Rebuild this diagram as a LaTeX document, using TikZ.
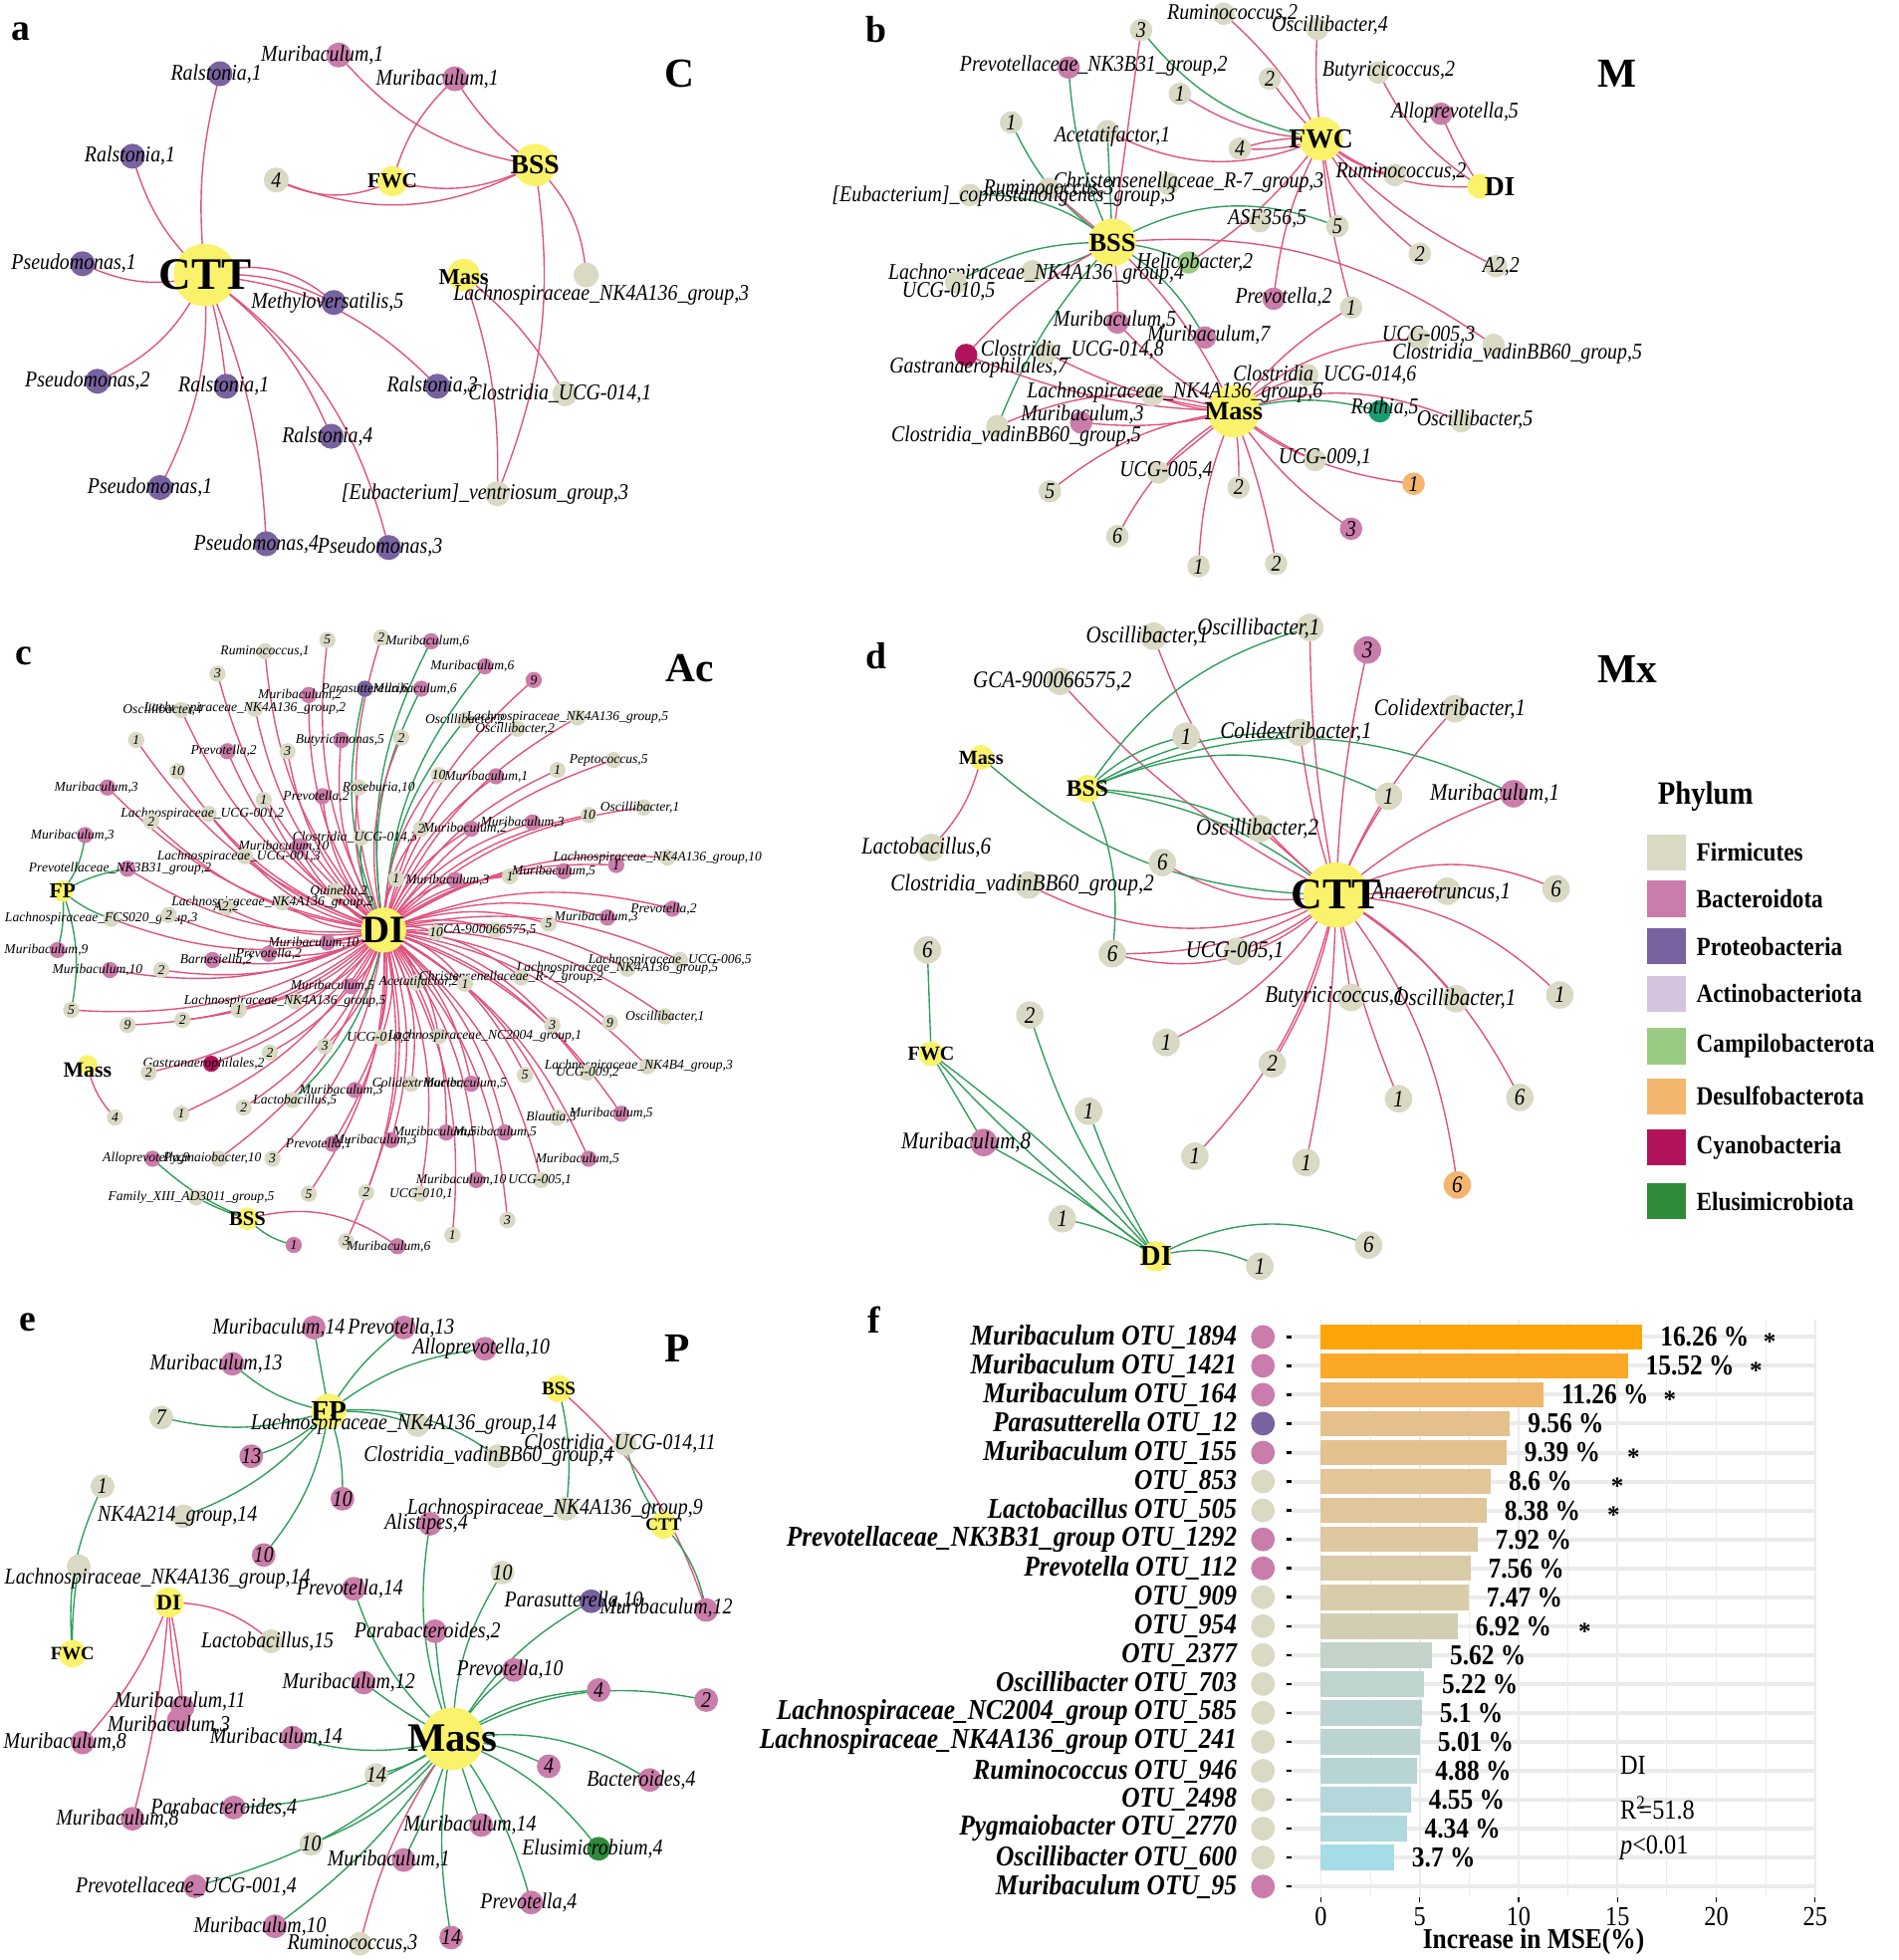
\documentclass[tikz,border=0pt]{standalone}
\usepackage{fontspec}
\setmainfont{Liberation Serif}
\newfontfamily\cond[FakeStretch=0.88]{Liberation Serif}
\usetikzlibrary{backgrounds}
\definecolor{hubyel}{HTML}{FBF26C}
\definecolor{fir}{HTML}{D9D9C4}
\definecolor{bac}{HTML}{CA7CAA}
\definecolor{pro}{HTML}{7862A0}
\definecolor{act}{HTML}{D4C4DE}
\definecolor{cam}{HTML}{9ACB83}
\definecolor{des}{HTML}{F4B66E}
\definecolor{cya}{HTML}{B2135A}
\definecolor{elu}{HTML}{2E8B3A}
\definecolor{teal}{HTML}{189E72}
\definecolor{edgered}{HTML}{E0527D}
\definecolor{edgegreen}{HTML}{2E9E5B}
\definecolor{gridc}{HTML}{EBEBEB}
\definecolor{fb1}{HTML}{FFA50A}
\definecolor{fb2}{HTML}{FBA827}
\definecolor{fb3}{HTML}{EEB76B}
\definecolor{fb4}{HTML}{E6C08C}
\definecolor{fb5}{HTML}{E5C18F}
\definecolor{fb6}{HTML}{E2C598}
\definecolor{fb7}{HTML}{E0C69B}
\definecolor{fb8}{HTML}{DDC8A2}
\definecolor{fb9}{HTML}{D9CBA8}
\definecolor{fb10}{HTML}{D8CCAA}
\definecolor{fb11}{HTML}{D3CEB1}
\definecolor{fb12}{HTML}{C3D3CA}
\definecolor{fb13}{HTML}{BED4CF}
\definecolor{fb14}{HTML}{BCD4D1}
\definecolor{fb15}{HTML}{BBD4D2}
\definecolor{fb16}{HTML}{B8D5D5}
\definecolor{fb17}{HTML}{B3D7DB}
\definecolor{fb18}{HTML}{B0D8DF}
\definecolor{fb19}{HTML}{A7DBE8}
\tikzset{%
        hub/.style = { circle, fill=hubyel, inner sep=0pt, minimum size=#1 },
         lf/.style = { circle, fill=#1, inner sep=0pt },
        lbl/.style = { inner sep=0pt, font=\cond\itshape\fontsize{#1}{#1}\selectfont },
       lbln/.style = { inner sep=0pt, font=\itshape\fontsize{#1}{#1}\selectfont },
     hubtxt/.style = { inner sep=0pt, font=\bfseries\fontsize{#1}{#1}\selectfont },
         er/.style = { draw=edgered, line width=0.55pt },
         eg/.style = { draw=edgegreen, line width=0.55pt },
         en/.style = { draw=none },
      panel/.style = { inner sep=0pt, font=\bfseries\fontsize{15}{15}\selectfont },
      group/.style = { inner sep=0pt, font=\bfseries\fontsize{16.5}{16.5}\selectfont },
      fbold/.style = { inner sep=0pt, font=\cond\bfseries\fontsize{11.5}{11.5}\selectfont },
    gridmaj/.style = { draw=gridc, line width=0.7pt },
    gridmin/.style = { draw=gridc, line width=0.35pt },
    gridrow/.style = { draw=gridc, line width=1.6pt }
}
\begin{document}
\begin{tikzpicture}[x=0.5pt,y=-0.5pt]
\useasboundingbox (0,0) rectangle (1519,1568);
% panel letters
\node[panel] (la) at (17,25) {a};
\node[panel] (lb) at (701,24) {b};
\node[panel] (lc) at (19,525) {c};
\node[panel] (ld) at (701,525) {d};
\node[panel] (le) at (22,1058) {e};
\node[panel] (lf) at (699,1056) {f};
\node[group] (gC) at (544,59) {C};
\node[group] (gM) at (1294,59) {M};
\node[group] (gAc) at (552,535) {Ac};
\node[group] (gMx) at (1302,535) {Mx};
\node[group] (gP) at (542,1079) {P};

%% panel a
\node[hub=25pt,label={[hubtxt=18]center:CTT}] (aCTT) at (164,220) {};
\node[hub=17pt,label={[hubtxt=11]center:BSS}] (aBSS) at (428,132) {};
\node[hub=12pt,label={[hubtxt=8.5]center:FWC}] (aFWC) at (314,145) {};
\node[hub=13pt,label={[hubtxt=9,yshift=-1pt]center:Mass}] (aMass) at (371,220) {};
\foreach \n/\x/\y/\c/\t/\dx/\dy in {
  1/176/59/pro/{Ralstonia,1}/-3/0, 2/106/125/pro/{Ralstonia,1}/-2/0,
  3/66/211/pro/{Pseudomonas,1}/-7/0, 4/267/242/pro/{Methyloversatilis,5}/-5/0,
  5/78/305/pro/{Pseudomonas,2}/-8/0, 6/181/309/pro/{Ralstonia,1}/-2/0,
  7/350/309/pro/{Ralstonia,3}/-4/0, 8/265/349/pro/{Ralstonia,4}/-3/0,
  9/128/390/pro/{Pseudomonas,1}/-8/0, 10/213/435/pro/{Pseudomonas,4}/-8/0,
  11/311/438/pro/{Pseudomonas,3}/-7/0, 12/271/44/bac/{Muribaculum,1}/-13/0,
  13/364/63/bac/{Muribaculum,1}/-14/0, 14/221/144/fir/4/0/0,
  15/452/315/fir/{Clostridia\_UCG-014,1}/-4/0,
  16/469/220/fir/{Lachnospiraceae\_NK4A136\_group,3}/12/16,
  17/398/395/fir/{[Eubacterium]\_ventriosum\_group,3}/-10/0}
  \node[lf=\c,minimum size=10pt,label={[lbl=9,xshift=\dx*0.5pt,yshift=\dy*-0.5pt]center:{\t}}] (a\n) at (\x,\y) {};
\begin{scope}[on background layer]
\foreach \a/\b/\e/\k in {aCTT/a1/er/10, aCTT/a2/er/15, aCTT/a3/er/20, aCTT/a4/er/15,
  aCTT/a4/er/30, aCTT/a5/er/20, aCTT/a6/er/5, aCTT/a7/er/20, aCTT/a8/er/15,
  aCTT/a9/er/15, aCTT/a10/er/10, aCTT/a11/er/20, aBSS/a12/er/20, aBSS/a13/er/10,
  aFWC/a13/er/15, aFWC/a14/er/25, aBSS/aFWC/er/20, aBSS/a14/er/25, aBSS/a16/er/20,
  aBSS/a17/er/15, aMass/a15/er/10, aMass/a17/er/10}
  \draw[\e] (\a.center) to[bend left={(\k)}] (\b.center);
\end{scope}

%% panel b
\node[hub=17.5pt,label={[hubtxt=11]center:FWC}] (bFWC) at (1057,111) {};
\node[hub=10pt,label={[hubtxt=11,xshift=8pt]center:DI}] (bDI) at (1184,149) {};
\node[hub=19pt,label={[hubtxt=10.5]center:BSS}] (bBSS) at (890,194) {};
\node[hub=21pt,label={[hubtxt=10.5]center:Mass}] (bMass) at (987,329) {};
\foreach \n/\x/\y/\c/\t/\dx/\dy in {
  1/913/24/fir/3/0/0, 2/979/11/fir/{Ruminococcus,2}/7/0, 3/1054/23/fir/{Oscillibacter,4}/10/-3,
  4/855/54/bac/{Prevotellaceae\_NK3B31\_group,2}/20/-1, 5/1016/63/fir/2/0/0,
  6/1103/58/fir/{Butyricicoccus,2}/8/-1, 7/944/75/fir/1/0/0,
  8/1153/91/bac/{Alloprevotella,5}/11/-1, 9/809/98/fir/1/0/0,
  10/886/105/fir/{Acetatifactor,1}/4/4, 11/992/119/fir/4/0/0,
  12/1116/140/fir/{Ruminococcus,2}/5/-2, 13/935/147/fir/{Christensenellaceae\_R-7\_group,3}/16/-1,
  14/839/151/fir/{Ruminococcus,3}/0/0, 15/776/156/fir/{[Eubacterium]\_coprostanoligenes\_group,3}/27/1,
  16/1070/181/fir/5/0/0, 17/1008/177/fir/{ASF356,5}/6/-2, 18/951/210/cam/{Helicobacter,2}/5/0,
  19/1136/203/fir/2/0/0, 20/1197/213/fir/{A2,2}/4/0,
  21/826/217/fir/{Lachnospiraceae\_NK4A136\_group,4}/3/2, 22/765/226/fir/{UCG-010,5}/-6/7,
  23/1019/239/bac/{Prevotella,2}/8/-1, 24/1081/246/fir/1/0/0,
  25/894/258/bac/{Muribaculum,5}/-2/-2, 26/964/270/bac/{Muribaculum,7}/3/-2,
  27/1135/271/fir/{UCG-005,3}/8/-3, 28/1195/276/fir/{Clostridia\_vadinBB60\_group,5}/19/7,
  29/773/284/cya/{Gastranaerophilales,7}/10/10, 30/837/282/fir/{Clostridia\_UCG-014,8}/21/-2,
  31/1046/300/fir/{Clostridia\_UCG-014,6}/14/0, 32/922/316/fir/{Lachnospiraceae\_NK4A136\_group,6}/18/-2,
  33/1104/329/teal/{Rothia,5}/4/-3, 34/1169/337/fir/{Oscillibacter,5}/11/-1,
  35/865/338/bac/{Muribaculum,3}/1/-6, 36/798/341/fir/{Clostridia\_vadinBB60\_group,5}/15/8,
  37/1052/368/fir/{UCG-009,1}/8/-2, 38/927/378/fir/{UCG-005,4}/6/-1,
  39/1131/387/des/1/0/0, 40/840/393/fir/5/0/0, 41/991/390/fir/2/0/0,
  42/1081/423/bac/3/0/0, 43/894/429/fir/6/0/0, 44/959/453/fir/1/0/0, 45/1021/451/fir/2/0/0}
  \node[lf=\c,minimum size=9pt,label={[lbl=9,xshift=\dx*0.5pt,yshift=\dy*-0.5pt]center:{\t}}] (b\n) at (\x,\y) {};
\begin{scope}[on background layer]
\foreach \a/\b/\e/\k in {bFWC/b1/eg/20, bFWC/b7/er/15, bFWC/b2/er/-10, bFWC/b3/er/5,
  bFWC/b5/er/5, bFWC/b11/er/10, bFWC/b11/er/-10, bFWC/b10/er/25, bFWC/bDI/er/-20,
  bFWC/b12/er/-15, bFWC/b19/er/-10, bFWC/b20/er/-10, bFWC/b16/er/0, bFWC/b23/er/-10,
  bFWC/b18/er/10, bFWC/b24/er/-5, bDI/b6/er/15, bDI/b8/er/5,
  bBSS/b4/eg/10, bBSS/b9/eg/15, bBSS/b10/eg/0, bBSS/b15/eg/-20, bBSS/b1/er/0,
  bBSS/b16/eg/25, bBSS/b22/eg/-15, bBSS/b21/eg/10, bBSS/b18/eg/10, bBSS/b26/eg/15,
  bBSS/b36/eg/-10, bBSS/b29/er/-10, bBSS/b28/er/20, bBSS/b14/er/0, bBSS/b25/er/5,
  bBSS/bMass/er/10, bMass/b29/er/10, bMass/b35/er/10, bMass/b36/er/-20,
  bMass/b32/er/10, bMass/b31/er/10, bMass/b27/er/20, bMass/b34/er/20, bMass/b33/eg/15,
  bMass/b24/er/10, bMass/b37/er/-10, bMass/b39/er/-15, bMass/b42/er/-10,
  bMass/b41/er/5, bMass/b44/er/-10, bMass/b45/er/5, bMass/b43/er/-15,
  bMass/b40/er/-15, bMass/b38/er/0, bMass/b25/er/10, bMass/b30/er/10}
  \draw[\e] (\a.center) to[bend left={(\k)}] (\b.center);
\end{scope}

%% panel c
\node[hub=18pt,label={[hubtxt=15.5]center:DI}] (cDI) at (307,744) {};
\node[hub=8.5pt,label={[hubtxt=8.5]center:FP}] (cFP) at (50,713) {};
\node[hub=8pt,label={[hubtxt=8.7,yshift=-2pt]center:Mass}] (cMass) at (70,852) {};
\node[hub=9pt,label={[hubtxt=8.2]center:BSS}] (cBSS) at (198,975) {};
\foreach \n/\x/\y/\c/\t/\dx/\e in {
  1/212/521/fir/{Ruminococcus,1}/0/er, 2/262/512/fir/5/0/er, 3/305/510/fir/2/0/er,
  4/345/513/bac/{Muribaculum,6}/-3/eg, 5/174/539/fir/3/0/er, 6/247/556/bac/{Muribaculum,2}/-7/er,
  7/292/551/pro/{Parasutterella,6}/0/eg, 8/337/551/bac/{Muribaculum,6}/-5/eg,
  9/388/533/bac/{Muribaculum,6}/-10/eg, 10/427/544/bac/9/0/er,
  11/204/567/fir/{Lachnospiraceae\_NK4A136\_group,2}/-8/er, 12/145/568/fir/{Oscillibacter,4}/-15/er,
  13/109/592/fir/1/0/er, 14/182/601/bac/{Prevotella,2}/-3/er, 15/230/601/fir/3/0/er,
  16/273/592/bac/{Butyricimonas,5}/-1/er, 17/321/590/fir/2/0/er,
  18/372/576/fir/{Oscillibacter,2}/0/eg, 19/414/583/fir/{Oscillibacter,2}/-2/er,
  20/462/574/fir/{Lachnospiraceae\_NK4A136\_group,5}/-8/er, 21/142/617/fir/10/0/er,
  22/86/630/bac/{Muribaculum,3}/-9/er, 23/211/640/fir/1/0/er, 24/258/637/bac/{Prevotella,2}/-5/er,
  25/287/630/fir/{Roseburia,10}/16/er, 26/351/620/fir/10/0/er, 27/397/621/bac/{Muribaculum,1}/-8/er,
  28/446/616/fir/1/0/er, 29/491/608/fir/{Peptococcus,5}/-4/er,
  30/167/651/fir/{Lachnospiraceae\_UCG-001,2}/-5/er, 31/121/657/fir/2/0/er,
  32/68/668/bac/{Muribaculum,3}/-10/en, 33/289/670/fir/{Clostridia\_UCG-014,3}/-5/eg,
  34/337/663/fir/2/0/er, 35/377/663/bac/{Muribaculum,2}/-5/er, 36/426/658/bac/{Muribaculum,3}/-8/er,
  37/471/652/fir/10/0/er, 38/515/646/fir/{Oscillibacter,1}/-3/er, 39/239/677/bac/{Muribaculum,10}/-12/er,
  40/196/685/fir/{Lachnospiraceae\_UCG-001,3}/-5/er, 41/102/695/bac/{Prevotellaceae\_NK3B31\_group,2}/-6/er,
  42/317/703/fir/1/0/er, 43/364/704/bac/{Muribaculum,3}/-6/er, 44/408/701/fir/1/0/er,
  45/451/697/bac/{Muribaculum,5}/-8/er, 46/493/692/bac/1/0/er,
  47/534/686/fir/{Lachnospiraceae\_NK4A136\_group,10}/-8/er, 48/268/713/fir/{Quinella,2}/3/er,
  49/226/722/fir/{Lachnospiraceae\_NK4A136\_group,2}/-8/er, 50/181/726/fir/{A2,2}/0/er,
  51/89/735/fir/{Lachnospiraceae\_FCS020\_group,3}/-8/er, 52/135/732/fir/2/0/er,
  53/538/727/bac/{Prevotella,2}/-7/er, 54/486/734/bac/{Muribaculum,3}/-9/er, 55/439/739/fir/5/0/er,
  56/396/744/fir/{GCA-900066575,5}/-8/er, 57/349/746/fir/10/0/er, 58/262/754/bac/{Muribaculum,10}/-11/er,
  59/215/763/bac/{Prevotella,2}/0/er, 60/46/760/bac/{Muribaculum,9}/-9/en,
  61/170/768/bac/{Barnesiella,2}/3/er, 62/544/768/fir/{Lachnospiraceae\_UCG-006,5}/-8/er,
  63/502/775/fir/{Lachnospiraceae\_NK4A136\_group,5}/-8/er, 64/88/776/bac/{Muribaculum,10}/-10/er,
  65/129/776/fir/2/0/er, 66/333/786/fir/{Acetatifactor,2}/2/er, 67/281/789/bac/{Muribaculum,5}/-15/er,
  68/417/782/fir/{Christensenellaceae\_R-7\_group,2}/-8/er, 69/372/787/fir/1/0/er,
  70/236/801/fir/{Lachnospiraceae\_NK4A136\_group,5}/-8/er, 71/191/808/fir/1/0/er,
  72/57/808/fir/5/0/er, 73/532/813/fir/{Oscillibacter,1}/0/er, 74/488/818/fir/9/0/er,
  75/102/820/fir/9/0/er, 76/146/816/fir/2/0/er, 77/442/820/fir/3/0/er,
  78/351/829/fir/{Lachnospiraceae\_NC2004\_group,1}/37/er, 79/260/837/fir/3/0/er,
  80/305/830/fir/{UCG-010,2}/-2/er, 81/216/842/fir/2/0/er, 82/169/851/cya/{Gastranaerophilales,2}/-6/er,
  83/119/858/fir/2/0/er, 84/518/853/fir/{Lachnospiraceae\_NK4B4\_group,3}/-7/er,
  85/470/858/fir/{UCG-009,2}/0/er, 86/420/860/fir/5/0/er, 87/145/891/fir/1/0/er,
  88/195/886/fir/2/0/er, 89/234/880/fir/{Lactobacillus,5}/2/eg, 90/284/872/bac/{Muribaculum,3}/-11/er,
  91/329/867/fir/{Colidextribacter,1}/8/er, 92/377/867/bac/{Muribaculum,5}/-5/er,
  93/446/894/fir/{Blautia,5}/-5/er, 94/497/891/bac/{Muribaculum,5}/-8/er,
  95/404/906/bac/{Muribaculum,5}/-8/er, 96/357/906/bac/{Muribaculum,5}/-9/er,
  97/175/927/fir/{Pygmaiobacter,10}/-5/er, 98/122/927/bac/{Alloprevotella,9}/-5/en,
  99/218/927/fir/3/0/er, 100/266/915/bac/{Prevotella,1}/-11/er, 101/313/912/bac/{Muribaculum,3}/-13/er,
  102/471/927/bac/{Muribaculum,5}/-9/er, 103/247/955/fir/5/0/er,
  104/157/958/fir/{Family\_XIII\_AD3011\_group,5}/-4/en, 105/293/954/fir/2/0/er,
  106/336/955/fir/{UCG-010,1}/1/er, 107/381/944/bac/{Muribaculum,10}/-12/er,
  108/433/944/fir/{UCG-005,1}/-1/er, 109/235/996/bac/1/0/en, 110/277/993/fir/3/0/er,
  111/318/997/bac/{Muribaculum,6}/-7/en, 112/406/976/fir/3/0/er, 113/362/988/fir/1/0/er,
  114/92/894/fir/4/0/en}
  {\node[lf=\c,minimum size=6.5pt,label={[lbln=5.4,xshift=\dx*0.5pt]center:{\t}}] (c\n) at (\x,\y) {};
   \begin{pgfonlayer}{background}\draw[\e] (cDI.center) to[bend left=18] (c\n.center);\end{pgfonlayer}}
\begin{scope}[on background layer]
\foreach \a/\b/\e/\k in {cFP/c32/eg/-15, cFP/c41/eg/10, cFP/c51/eg/-10, cFP/c60/eg/10,
  cFP/c72/eg/15, cBSS/c98/eg/10, cBSS/c104/eg/5, cBSS/c109/eg/-15, cBSS/c111/er/25,
  cMass/c114/er/-15}
  \draw[\e] (\a.center) to[bend left={(\k)}] (\b.center);
\end{scope}

%% panel d
\node[hub=26pt,label={[hubtxt=17.5]center:CTT}] (dCTT) at (1069,716) {};
\node[hub=11pt,label={[hubtxt=9.4]center:BSS}] (dBSS) at (870,631) {};
\node[hub=10pt,label={[hubtxt=8]center:Mass}] (dMass) at (785,606) {};
\node[hub=10pt,label={[hubtxt=8]center:FWC}] (dFWC) at (745,843) {};
\node[hub=12pt,label={[hubtxt=11.5]center:DI}] (dDI) at (925,1005) {};
\foreach \n/\x/\y/\c/\t/\dx/\dy in {
  1/923/509/fir/{Oscillibacter,1}/-5/0, 2/1048/502/fir/{Oscillibacter,1}/-41/1, 3/1094/520/bac/3/0/0,
  4/848/545/fir/{GCA-900066575,2}/-6/0, 5/1164/567/fir/{Colidextribacter,1}/-4/0,
  6/949/589/fir/1/0/0, 7/1040/586/fir/{Colidextribacter,1}/-3/0, 8/1111/637/fir/1/0/0,
  9/1211/635/bac/{Muribaculum,1}/-15/0, 10/745/678/fir/{Lactobacillus,6}/-4/0,
  11/1008/663/fir/{Oscillibacter,2}/-2/0, 12/930/690/fir/6/0/0,
  13/823/708/fir/{Clostridia\_vadinBB60\_group,2}/-5/0, 14/1158/713/fir/{Anaerotruncus,1}/-5/1,
  15/1245/711/fir/6/0/0, 16/742/760/fir/6/0/0, 17/890/763/fir/6/0/0,
  18/990/761/fir/{UCG-005,1}/-2/0, 19/1081/798/fir/{Butyricicoccus,1}/-13/0,
  20/1165/799/fir/{Oscillibacter,1}/-1/0, 21/1248/796/fir/1/0/0, 22/824/812/fir/2/0/0,
  23/933/834/fir/1/0/0, 24/1018/851/fir/2/0/0, 25/1119/879/fir/1/0/0, 26/1216/878/fir/6/0/0,
  27/871/889/fir/1/0/0, 28/787/914/bac/{Muribaculum,8}/-14/0, 29/956/925/fir/1/0/0,
  30/1045/930/fir/1/0/0, 31/1166/948/des/6/0/0, 32/850/975/fir/1/0/0,
  33/1095/996/fir/6/0/0, 34/1008/1013/fir/1/0/0}
  \node[lf=\c,minimum size=11pt,label={[lbl=9.5,xshift=\dx*0.5pt,yshift=\dy*-0.5pt]center:{\t}}] (d\n) at (\x,\y) {};
\begin{scope}[on background layer]
\foreach \a/\b/\e/\k in {dCTT/d1/er/15, dCTT/d2/er/5, dCTT/d3/er/5, dCTT/d4/er/10,
  dCTT/d5/er/10, dCTT/d7/er/5, dCTT/d8/er/5, dCTT/d9/er/10, dCTT/d12/er/20,
  dCTT/d13/er/25, dCTT/d14/er/0, dCTT/d15/er/25, dCTT/d17/er/15, dCTT/d17/er/30,
  dCTT/d18/er/10, dCTT/d21/er/20, dCTT/d20/er/10, dCTT/d19/er/0, dCTT/d23/er/15,
  dCTT/d24/er/10, dCTT/d25/er/-5, dCTT/d26/er/15, dCTT/d29/er/15, dCTT/d30/er/5,
  dCTT/d31/er/15, dCTT/d11/er/0, dBSS/d2/eg/20, dBSS/d6/eg/15, dBSS/d7/eg/15,
  dBSS/d9/eg/25, dBSS/d8/eg/25, dBSS/dCTT/eg/15, dBSS/d17/eg/15, dBSS/d11/eg/10,
  dMass/d10/er/15, dMass/dCTT/eg/-20, dFWC/d16/eg/0, dFWC/d28/eg/0, dFWC/dDI/eg/5,
  dFWC/dDI/eg/-5, dDI/d22/eg/10, dDI/d27/eg/5, dDI/d32/eg/-10, dDI/d33/eg/25,
  dDI/d34/eg/20, dDI/d28/eg/-5}
  \draw[\e] (\a.center) to[bend left={(\k)}] (\b.center);
\end{scope}

% legend
\node[anchor=west,inner sep=0pt,font=\cond\bfseries\fontsize{13}{13}\selectfont] (phylum) at (1326,637) {Phylum};
\foreach \i/\c/\t/\y in {1/fir/Firmicutes/682, 2/bac/Bacteroidota/719, 3/pro/Proteobacteria/757,
  4/act/Actinobacteriota/795, 5/cam/Campilobacterota/837, 6/des/Desulfobacterota/877,
  7/cya/Cyanobacteria/918, 8/elu/Elusimicrobiota/961}
  {\node[fill=\c,minimum width=15.5pt,minimum height=14.5pt,inner sep=0pt] (key\i) at (1333,\y) {};
   \node[anchor=west,inner sep=0pt,font=\cond\bfseries\fontsize{10.5}{10.5}\selectfont] (kt\i) at (1357,\y) {\t};}

%% panel e
\node[hub=14pt,label={[hubtxt=11.6]center:FP}] (eFP) at (263,1129) {};
\node[hub=11pt,label={[hubtxt=7.6]center:BSS}] (eBSS) at (447,1111) {};
\node[hub=11pt,label={[hubtxt=7]center:CTT}] (eCTT) at (531,1220) {};
\node[hub=12pt,label={[hubtxt=8.8]center:DI}] (eDI) at (135,1282) {};
\node[hub=11pt,label={[hubtxt=7.5]center:FWC}] (eFWC) at (58,1323) {};
\node[hub=25pt,label={[hubtxt=16.2]center:Mass}] (eMass) at (362,1391) {};
\foreach \n/\x/\y/\c/\t/\dx/\dy in {
  1/251/1062/bac/{Muribaculum,14}/-28/0, 2/323/1062/bac/{Prevotella,13}/-2/0,
  3/388/1079/bac/{Alloprevotella,10}/-3/0, 4/186/1091/bac/{Muribaculum,13}/-13/0,
  5/129/1134/fir/7/0/0, 6/334/1140/fir/{Lachnospiraceae\_NK4A136\_group,14}/-11/-1,
  7/398/1165/fir/{Clostridia\_vadinBB60\_group,4}/-7/0, 8/500/1155/fir/{Clostridia\_UCG-014,11}/-4/0,
  9/201/1165/bac/13/0/0, 10/82/1189/fir/1/0/0, 11/147/1213/fir/{NK4A214\_group,14}/-5/0,
  12/274/1199/bac/10/0/0, 13/453/1207/fir/{Lachnospiraceae\_NK4A136\_group,9}/-9/0,
  14/344/1219/bac/{Alistipes,4}/-3/0, 15/211/1244/bac/10/0/0,
  16/63/1253/fir/{Lachnospiraceae\_NK4A136\_group,14}/63/10, 17/402/1258/fir/10/0/0,
  18/283/1271/bac/{Prevotella,14}/-3/0, 19/473/1281/pro/{Parasutterella,10}/-14/0,
  20/565/1288/bac/{Muribaculum,12}/-32/-2, 21/217/1313/fir/{Lactobacillus,15}/-3/0,
  22/348/1305/bac/{Parabacteroides,2}/-6/0, 23/411/1336/bac/{Prevotella,10}/-3/0,
  24/291/1346/bac/{Muribaculum,12}/-12/0, 25/479/1352/bac/4/0/0, 26/565/1360/bac/2/0/0,
  27/146/1366/bac/{Muribaculum,11}/-2/-5, 28/143/1376/bac/{Muribaculum,3}/-8/4,
  29/66/1394/bac/{Muribaculum,8}/-14/0, 30/234/1390/bac/{Muribaculum,14}/-13/0,
  31/439/1413/bac/4/0/0, 32/301/1420/fir/14/0/0, 33/520/1424/bac/{Bacteroides,4}/-7/0,
  34/106/1455/bac/{Muribaculum,8}/-12/0, 35/187/1446/bac/{Parabacteroides,4}/-8/0,
  36/385/1460/bac/{Muribaculum,14}/-9/0, 37/249/1475/fir/10/0/0,
  38/479/1479/elu/{Elusimicrobium,4}/-5/0, 39/323/1488/bac/{Muribaculum,1}/-12/0,
  40/156/1509/bac/{Prevotellaceae\_UCG-001,4}/-7/0, 41/425/1522/bac/{Prevotella,4}/-2/0,
  42/220/1541/bac/{Muribaculum,10}/-12/0, 43/288/1555/fir/{Ruminococcus,3}/-6/0,
  44/361/1550/bac/14/0/0}
  \node[lf=\c,minimum size=9.5pt,label={[lbl=9,xshift=\dx*0.5pt,yshift=\dy*-0.5pt]center:{\t}}] (e\n) at (\x,\y) {};
\begin{scope}[on background layer]
\foreach \a/\b/\e/\k in {eFP/e1/eg/0, eFP/e2/eg/10, eFP/e3/eg/15, eFP/e4/eg/15,
  eFP/e5/eg/15, eFP/e6/eg/10, eFP/e7/eg/20, eFP/e9/eg/15, eFP/e11/eg/15, eFP/e12/eg/10,
  eFP/e15/eg/15, eBSS/e13/eg/10, eBSS/e20/er/15, eCTT/e8/eg/10, eCTT/e20/eg/15,
  eFWC/e10/eg/15, eFWC/e16/eg/5, eDI/e21/er/20, eDI/e29/er/10, eDI/e27/er/5,
  eDI/e27/er/-5, eDI/e34/er/5, eMass/e14/eg/15, eMass/e17/eg/15, eMass/e18/eg/15,
  eMass/e19/eg/15, eMass/e22/eg/5, eMass/e23/eg/10, eMass/e24/eg/5, eMass/e25/eg/15,
  eMass/e26/eg/20, eMass/e30/eg/15, eMass/e31/eg/10, eMass/e32/eg/10, eMass/e33/eg/20,
  eMass/e35/eg/15, eMass/e36/eg/0, eMass/e37/eg/15, eMass/e38/eg/15, eMass/e39/eg/5,
  eMass/e40/eg/15, eMass/e41/eg/10, eMass/e42/eg/10, eMass/e44/eg/-10, eMass/e43/er/-10}
  \draw[\e] (\a.center) to[bend left={(\k)}] (\b.center);
\end{scope}

%% panel f
\foreach \k in {2.5,7.5,...,22.5} \draw[gridmin] ({1056.8+15.82*\k},1056) -- ({1056.8+15.82*\k},1517);
\foreach \k in {0,5,...,25} {
  \draw[gridmaj] ({1056.8+15.82*\k},1056) -- ({1056.8+15.82*\k},1517);
  \draw[line width=0.5pt] ({1056.8+15.82*\k},1518) -- ({1056.8+15.82*\k},1522);
  \node[inner sep=0pt,font=\cond\fontsize{11}{11}\selectfont] (tick\k) at ({1056.8+15.82*\k},1533) {\k};}
\foreach \i in {1,...,20} {
  \pgfmathsetmacro\yy{1069.5+(\i-1)*23.14}
  \draw[gridrow] (1028,\yy) -- (1452,\yy);
  \draw[line width=1pt] (1029,\yy) -- (1033,\yy);}
\foreach \i/\t/\v/\c/\d/\s in {
  1/{Muribaculum OTU\_1894}/16.26/fb1/bac/1416, 2/{Muribaculum OTU\_1421}/15.52/fb2/bac/1405,
  3/{Muribaculum OTU\_164}/11.26/fb3/bac/1336, 4/{Parasutterella OTU\_12}/9.56/fb4/pro/0,
  5/{Muribaculum OTU\_155}/9.39/fb5/bac/1307, 6/{OTU\_853}/8.6/fb6/fir/1294,
  7/{Lactobacillus OTU\_505}/8.38/fb7/fir/1291, 8/{Prevotellaceae\_NK3B31\_group OTU\_1292}/7.92/fb8/bac/0,
  9/{Prevotella OTU\_112}/7.56/fb9/bac/0, 10/{OTU\_909}/7.47/fb10/fir/0,
  11/{OTU\_954}/6.92/fb11/fir/1268, 12/{OTU\_2377}/5.62/fb12/fir/0,
  13/{Oscillibacter OTU\_703}/5.22/fb13/fir/0, 14/{Lachnospiraceae\_NC2004\_group OTU\_585}/5.1/fb14/fir/0,
  15/{Lachnospiraceae\_NK4A136\_group OTU\_241}/5.01/fb15/fir/0, 16/{Ruminococcus OTU\_946}/4.88/fb16/fir/0,
  17/{OTU\_2498}/4.55/fb17/fir/0, 18/{Pygmaiobacter OTU\_2770}/4.34/fb18/fir/0,
  19/{Oscillibacter OTU\_600}/3.7/fb19/fir/0}
  {\pgfmathsetmacro\yy{1069.5+(\i-1)*23.14}
   \fill[\c] (1056.8,\yy-10.2) rectangle ({1056.8+15.82*\v},\yy+10.2);
   \node[fbold,anchor=west] (fv\i) at ({1056.8+15.82*\v+14},\yy) {\v\ \%};
   \node[lf=\d,minimum size=9.5pt] (fd\i) at (1010.5,\yy) {};
   \node[fbold,font=\cond\bfseries\itshape\fontsize{11.5}{11.5}\selectfont,anchor=east] (fl\i) at (990,\yy) {\t};
   \ifnum\s>0 \node[fbold,font=\bfseries\fontsize{10}{10}\selectfont] (fs\i) at (\s,\yy+4) {*};\fi}
\node[lf=bac,minimum size=9.5pt] (fd20) at (1010.5,1509.2) {};
\node[fbold,font=\cond\bfseries\itshape\fontsize{11.5}{11.5}\selectfont,anchor=east] (fl20) at (990,1509.2) {Muribaculum OTU\_95};
\node[fbold] (xlab) at (1227,1553) {Increase in MSE(\%)};
\node[anchor=west,inner sep=0pt,font=\cond\fontsize{11}{11}\selectfont] (fDI) at (1296,1412) {DI};
\node[anchor=west,inner sep=0pt,font=\cond\fontsize{11}{11}\selectfont] (fR) at (1296,1446) {R\textsuperscript{2}\kern-3pt=51.8};
\node[anchor=west,inner sep=0pt,font=\cond\fontsize{11}{11}\selectfont] (fp) at (1296,1478) {\textit{p}<0.01};
\end{tikzpicture}
\end{document}
